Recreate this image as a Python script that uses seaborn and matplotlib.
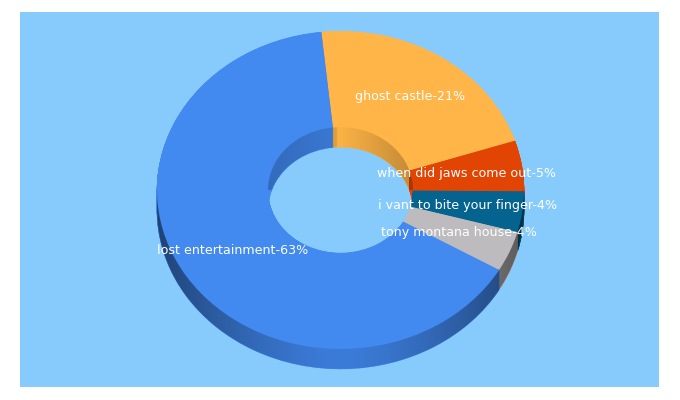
import numpy as np
import matplotlib
matplotlib.use("Agg")
import matplotlib.pyplot as plt
import seaborn as sns

names = ["ghost castle", "when did jaws come out", "i vant to bite your finger",
         "tony montana house", "lost entertainment"]
shares = [21, 5, 4, 4, 63]
slice_colors = ["#FFB547", "#E24404", "#05638F", "#BDBBBD", "#4289F0"]
panel_color = "#87CBFD"

sns.set_theme(style="white")
palette = sns.color_palette(slice_colors)
labels = [f"{n}-{s}%" for n, s in zip(names, shares)]

# pixel geometry of the tilted ring
cx, cy, rx, ry = 340.5, 190.0, 183.5, 159.0
depth_px = 20.0
hole = 0.395
start = 96.0
depth = depth_px / ry

fig = plt.figure(figsize=(6.8, 4.0), dpi=100, facecolor="white")
left, right, top, bottom = 20, 659, 12, 387
ax = fig.add_axes([left / 680, 1 - bottom / 400, (right - left) / 680, (bottom - top) / 400])

pie_kw = dict(colors=palette, startangle=start, counterclock=False, radius=1.0)

# side walls: the same pie stacked downwards
for k in np.arange(40, 0, -1):
    offs = -depth * k / 40
    wedges, _ = ax.pie(shares, center=(0, offs),
                       wedgeprops=dict(width=1 - hole, linewidth=0.3), **pie_kw)
    for w in wedges:
        w.set_edgecolor(w.get_facecolor())
        w.set_zorder(1)

# top face
wedges, texts = ax.pie(shares, labels=labels, labeldistance=(1 + hole) / 2,
                       wedgeprops=dict(width=1 - hole, linewidth=0), **pie_kw)
for w in wedges:
    w.set_zorder(3)
for t in texts:
    t.set(color="white", fontsize=9.1, ha="center", va="center", zorder=4,
          family="DejaVu Sans")

x0, x1 = (left - cx) / rx, (right - cx) / rx
y0, y1 = (cy - bottom) / ry, (cy - top) / ry
ax.set_aspect("auto")
ax.set_xlim(x0, x1)
ax.set_ylim(y0, y1)
ax.set_frame_on(True)
ax.set_facecolor(panel_color)
for s in ax.spines.values():
    s.set_visible(False)

# wall shading, applied as a dark overlay between the walls and the top face
gx = np.linspace(x0, x1, (right - left) * 4)
gy = np.linspace(y1, y0, (bottom - top) * 4)
X, Y = np.meshgrid(gx, gy)
outer = (np.abs(X) <= 1) & (Y < 0) & (X**2 + Y**2 >= 0.98) & \
        (Y >= -depth - np.sqrt(np.clip(1 - X**2, 0, None)))
inner = (X**2 + Y**2 <= (hole * 1.03) ** 2) & (X**2 + (Y + depth) ** 2 >= hole**2) & (Y > 0)
alpha = np.zeros_like(X)
alpha[outer] = (0.10 + 0.42 * np.abs(X[outer]) ** 1.5)
xin = X[inner] / hole
alpha[inner] = np.where(xin < -0.05, 0.12 + 0.10 * np.abs(xin), 0.02 + 0.22 * np.abs(xin))
rgba = np.zeros(X.shape + (4,))
rgba[..., 3] = alpha
ax.imshow(rgba, extent=(x0, x1, y0, y1), aspect="auto", zorder=2,
          interpolation="hanning", interpolation_stage="rgba")
ax.set_xlim(x0, x1)
ax.set_ylim(y0, y1)

fig.savefig("out.png", dpi=100, facecolor="white")
